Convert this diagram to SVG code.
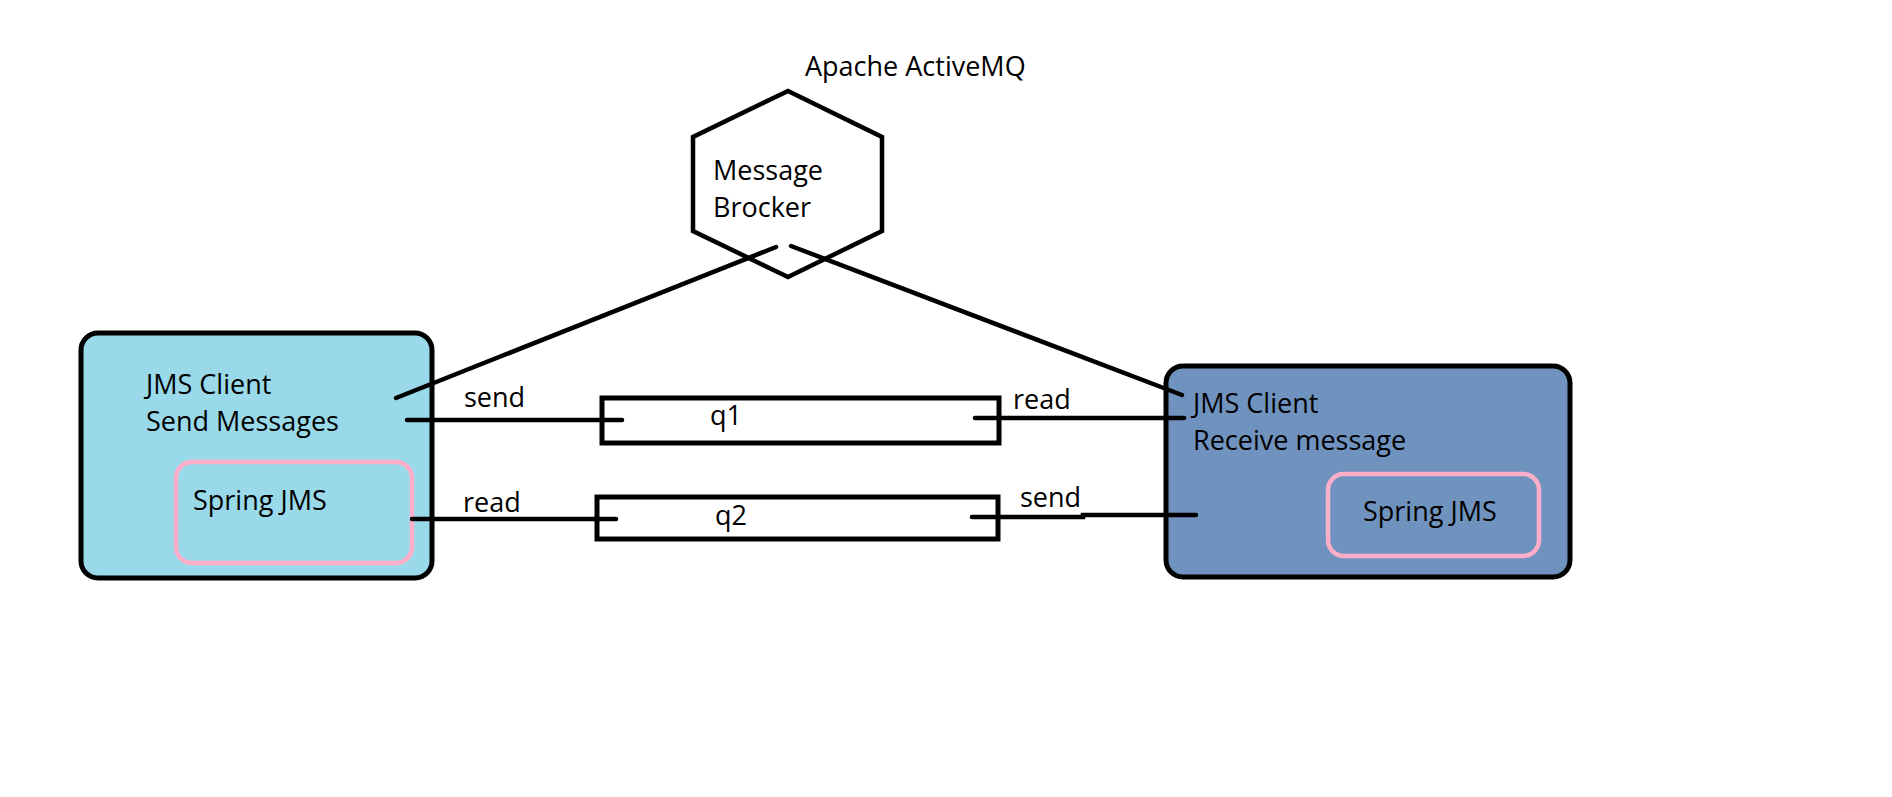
<svg xmlns="http://www.w3.org/2000/svg" width="1892" height="797" viewBox="0 0 1892 797">
<style>
text{font-family:"Open Sans","Noto Sans","Liberation Sans",sans-serif;font-size:27px;font-weight:500;fill:#000}
.ln{stroke:#000;stroke-width:4.5;fill:none;stroke-linecap:round}
.box{stroke:#000;stroke-width:5;}
.pink{stroke:#FFAEC9;stroke-width:4.5;fill:none}
.q{fill:#fff;stroke:#000;stroke-width:5}
</style>
<rect width="1892" height="797" fill="#fff"/>
<g id="broker">
<text x="805" y="76">Apache ActiveMQ</text>
<polygon points="788,91 882,137 882,231 788,277 693,231 693,137" fill="#fff" stroke="#000" stroke-width="4.5"/>
<text x="713" y="180">Message</text>
<text x="713" y="217">Brocker</text>
</g>
<g id="sender">
<rect x="81" y="333" width="351" height="245" rx="17" fill="#99D9EA" class="box"/>
<text x="146" y="394">JMS Client</text>
<text x="146" y="431">Send Messages</text>
<rect x="176" y="462" width="236" height="101" rx="16" class="pink"/>
<text x="193" y="510">Spring JMS</text>
</g>
<g id="receiver">
<rect x="1166" y="366" width="404" height="211" rx="17" fill="#7092BE" class="box"/>
<text x="1193" y="413">JMS Client</text>
<text x="1193" y="450">Receive message</text>
<rect x="1328" y="474" width="211" height="82" rx="16" class="pink"/>
<text x="1363" y="521">Spring JMS</text>
</g>
<g id="q1">
<rect x="602" y="398" width="397" height="45" class="q"/>
<text x="710" y="425">q1</text>
</g>
<g id="q2">
<rect x="597" y="497" width="401" height="42" class="q"/>
<text x="715" y="525">q2</text>
</g>
<g id="connectors">
<line x1="776" y1="247" x2="396" y2="398" class="ln"/>
<line x1="791" y1="246" x2="1182" y2="395" class="ln"/>
<line x1="407" y1="420" x2="622" y2="420" class="ln"/>
<line x1="975" y1="418" x2="1184" y2="418" class="ln"/>
<line x1="412" y1="519" x2="616" y2="519" class="ln"/>
<polyline points="972,517 1083,517 1083,515 1196,515" class="ln" stroke-linecap="butt"/>
<text x="464" y="407">send</text>
<text x="1013" y="409">read</text>
<text x="463" y="512">read</text>
<text x="1020" y="507">send</text>
</g>
</svg>
